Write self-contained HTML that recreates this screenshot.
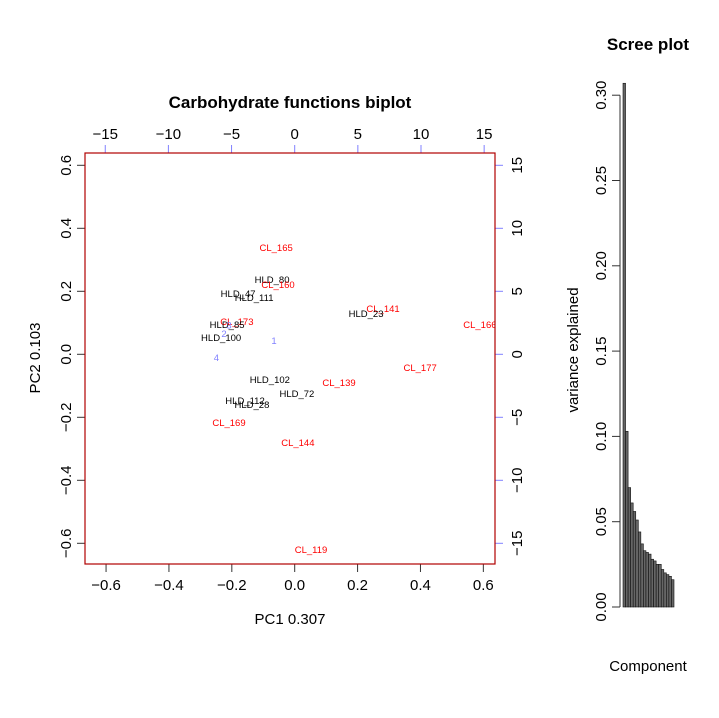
<!DOCTYPE html>
<html><head><meta charset="utf-8"><style>
html,body{margin:0;padding:0;background:#fff;}
svg{display:block;font-family:"Liberation Sans",sans-serif;}
</style></head><body>
<svg id="chart" width="719" height="718" viewBox="0 0 719 718">
<defs><clipPath id="box"><rect x="85" y="153" width="410" height="411"/></clipPath></defs>
<text x="290" y="108" font-size="17" font-weight="bold" text-anchor="middle">Carbohydrate functions biplot</text>
<text x="648" y="50" font-size="17" font-weight="bold" text-anchor="middle">Scree plot</text>
<text x="290" y="624" font-size="15" text-anchor="middle">PC1 0.307</text>
<text transform="translate(40,358) rotate(-90)" font-size="15" text-anchor="middle">PC2 0.103</text>
<text transform="translate(578,350) rotate(-90)" font-size="15" text-anchor="middle">variance explained</text>
<text x="648" y="671" font-size="15" text-anchor="middle">Component</text>
<g id="axes"></g>
<g id="points" clip-path="url(#box)"></g>
<g id="scree"></g>
<rect x="85" y="153" width="410" height="411" fill="none" stroke="#b00000" stroke-width="1.2"/>
</svg>
<script>
const sampleNames = ["CL_165","HLD_80","CL_160","HLD_47","HLD_111","CL_141","HLD_23","CL_166","CL_173","HLD_85","HLD_100","CL_177","HLD_102","CL_139","HLD_72","HLD_112","HLD_28","CL_169","CL_144","CL_119"];
const pc1 = [-0.059,-0.072,-0.053,-0.180,-0.129,0.281,0.227,0.589,-0.184,-0.215,-0.234,0.399,-0.079,0.141,0.007,-0.158,-0.136,-0.209,0.010,0.052];
const pc2 = [0.337,0.236,0.220,0.191,0.179,0.144,0.128,0.093,0.103,0.093,0.052,-0.044,-0.081,-0.091,-0.126,-0.149,-0.161,-0.218,-0.282,-0.622];
const loadNames = ["1","2","3","4"];
const load1 = [-1.64,-5.6,-5.2,-6.2];
const load2 = [1.06,1.6,2.3,-0.3];
const xTicks = [-0.6,-0.4,-0.2,0.0,0.2,0.4,0.6];
const xTickLabels = ["\u22120.6","\u22120.4","\u22120.2","0.0","0.2","0.4","0.6"];
const yTicks = [-0.6,-0.4,-0.2,0.0,0.2,0.4,0.6];
const yTickLabels = ["\u22120.6","\u22120.4","\u22120.2","0.0","0.2","0.4","0.6"];
const topTicks = [-15,-10,-5,0,5,10,15];
const topTickLabels = ["\u221215","\u221210","\u22125","0","5","10","15"];
const screeValues = [0.307,0.103,0.070,0.061,0.056,0.051,0.044,0.037,0.033,0.032,0.031,0.028,0.027,0.025,0.025,0.022,0.020,0.019,0.018,0.016];
const screeTicks = [0,0.05,0.10,0.15,0.20,0.25,0.30];
const screeTickLabels = ["0.00","0.05","0.10","0.15","0.20","0.25","0.30"];

const NS="http://www.w3.org/2000/svg";
const X=v=>294.7+v*314.4, Y=v=>354.3-v*315;
const X2=v=>294.7+v*12.63, Y2=v=>354.3-v*12.6;
const SY=v=>607-v*1706;
function mk(tag,attrs,parent,text){const e=document.createElementNS(NS,tag);for(const k in attrs)e.setAttribute(k,attrs[k]);if(text!==undefined)e.textContent=text;parent.appendChild(e);return e;}
const ax=document.getElementById('axes'), pts=document.getElementById('points'), sc=document.getElementById('scree');
xTicks.forEach((t,i)=>{
  const l=mk('line',{x1:X(t),x2:X(t),y1:564,y2:572,stroke:'#333'},ax);
  
  
  const tx=mk('text',{x:X(t),y:590,'font-size':15,'text-anchor':'middle'},ax,xTickLabels[i]);
  
  
});
yTicks.forEach((t,i)=>{
  const l=mk('line',{x1:77,x2:85,y1:Y(t),y2:Y(t),stroke:'#333'},ax);
  
  
  const tx=mk('text',{transform:`translate(71,${Y(t)}) rotate(-90)`,'font-size':15,'text-anchor':'middle'},ax,yTickLabels[i]);
  
  
});
topTicks.forEach((t,i)=>{
  const l=mk('line',{x1:X2(t),x2:X2(t),y1:145,y2:153,stroke:'#8080ff'},ax);
  
  
  const tx=mk('text',{x:X2(t),y:139,'font-size':15,'text-anchor':'middle'},ax,topTickLabels[i]);
  
  
  const l2=mk('line',{x1:495,x2:503,y1:Y2(t),y2:Y2(t),stroke:'#8080ff'},ax);
  
  
  const t2=mk('text',{transform:`translate(522,${Y2(t)}) rotate(-90)`,'font-size':15,'text-anchor':'middle'},ax,topTickLabels[i]);
  
  
});
sampleNames.forEach((n,i)=>{
  const col=n.startsWith('CL')?'#ff0000':'#000000';
  const t=mk('text',{x:X(pc1[i]),y:Y(pc2[i])+3,'font-size':9.5,'text-anchor':'middle',fill:col},pts,n);
  
  
});
loadNames.forEach((n,i)=>{
  const t=mk('text',{x:X2(load1[i]),y:Y2(load2[i])+3,'font-size':9.5,'text-anchor':'middle',fill:'#8080ff'},pts,n);
  
  
});
const bw=2.55, bx0=623;
screeValues.forEach((v,i)=>{
  const r=mk('rect',{x:bx0+i*bw,y:SY(v),width:bw,height:607-SY(v),fill:'#666',stroke:'#111','stroke-width':0.6},sc);
  
  
});
mk('line',{x1:620,x2:620,y1:SY(0),y2:SY(0.30),stroke:'#333'},sc);
screeTicks.forEach((t,i)=>{
  const l=mk('line',{x1:612,x2:620,y1:SY(t),y2:SY(t),stroke:'#333'},sc);
  
  
  const tx=mk('text',{transform:`translate(606,${SY(t)}) rotate(-90)`,'font-size':15,'text-anchor':'middle'},sc,screeTickLabels[i]);
  
  
});
</script>
</body></html>
